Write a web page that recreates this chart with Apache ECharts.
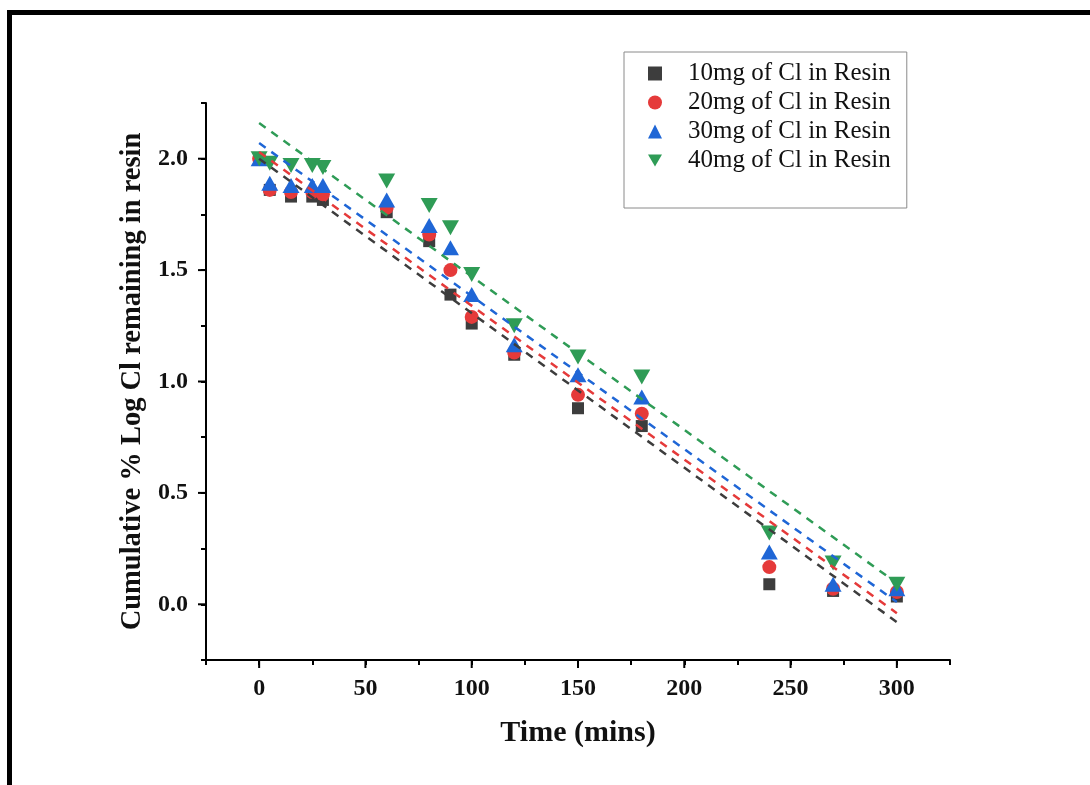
<!DOCTYPE html>
<html>
<head>
<meta charset="utf-8">
<script src="https://cdn.jsdelivr.net/npm/echarts@6/dist/echarts.min.js"></script>
<style>html,body{margin:0;padding:0;background:#fff}#c{width:1090px;height:785px}</style>
</head>
<body>
<div id="c"></div>
<script>
const times = [0, 5, 15, 25, 30, 60, 80, 90, 100, 120, 150, 180, 240, 270, 300];
const s10 = [2.00, 1.86, 1.83, 1.83, 1.815, 1.76, 1.63, 1.39, 1.26, 1.12, 0.88, 0.80, 0.09, 0.06, 0.035];
const s20 = [2.00, 1.86, 1.85, 1.85, 1.84, 1.78, 1.66, 1.50, 1.29, 1.13, 0.94, 0.855, 0.167, 0.07, 0.055];
const s30 = [2.00, 1.89, 1.88, 1.88, 1.88, 1.815, 1.70, 1.60, 1.39, 1.165, 1.03, 0.93, 0.235, 0.09, 0.07];
const s40 = [2.00, 1.98, 1.97, 1.97, 1.96, 1.90, 1.79, 1.69, 1.48, 1.25, 1.11, 1.02, 0.32, 0.185, 0.09];
const seriesNames = ['10mg of Cl in Resin', '20mg of Cl in Resin', '30mg of Cl in Resin', '40mg of Cl in Resin'];
const fitTimes = [0, 300];
const fitStart = [2.00, 2.03, 2.07, 2.16];
const fitEnd = [-0.08, -0.04, 0.01, 0.095];
const xMin = -25, xMax = 325, yMin = -0.25, yMax = 2.25;
const xMajor = [0, 50, 100, 150, 200, 250, 300];
const yMajor = [0, 0.5, 1.0, 1.5, 2.0];

const colors = ['#3d3d3d', '#e53a3a', '#1f66d6', '#2f9c56'];
const symbols = ['rect', 'circle', 'triangle', 'path://M0,0 L10,0 L5,8.5 Z'];
const sizes = [12, 14, [17, 15], [17, 15]];
const allData = [s10, s20, s30, s40];

const serif = '"Liberation Serif", "DejaVu Serif", serif';
const series = [];
allData.forEach((arr, i) => {
  series.push({
    name: seriesNames[i], type: 'scatter',
    data: times.map((t, j) => [t, arr[j]]),
    symbol: symbols[i], symbolSize: sizes[i],
    itemStyle: { color: colors[i], opacity: 1 },
    xAxisIndex: 0, yAxisIndex: 0, z: 3
  });
});
allData.forEach((arr, i) => {
  series.push({
    name: 'fit' + i, type: 'line',
    data: [[fitTimes[0], fitStart[i]], [fitTimes[1], fitEnd[i]]],
    symbol: 'none', silent: true,
    lineStyle: { color: colors[i], width: 2.5, type: [8, 7] },
    xAxisIndex: 0, yAxisIndex: 0, z: 4
  });
});

const frame = {
  type: 'polyline', silent: true,
  shape: { points: [[9.5, 785], [9.5, 12.5], [1090, 12.5]] },
  style: { stroke: '#000', lineWidth: 5, fill: null }
};

const chart = echarts.init(document.getElementById('c'));
chart.setOption({
  animation: false,
  backgroundColor: '#fff',
  grid: { left: 206, right: 140, top: 103, bottom: 125, containLabel: false },
  legend: {
    data: seriesNames.map((n, i) => ({ name: n, icon: symbols[i] })),
    orient: 'vertical', left: 624, top: 52,
    padding: [9, 16, 35, 24],
    borderColor: '#8a8a8a', borderWidth: 1,
    itemWidth: 14, itemHeight: 14, itemGap: 4,
    textStyle: { fontFamily: serif, fontSize: 25, color: '#111', lineHeight: 25, padding: [0, 0, 0, 21] }
  },
  xAxis: [{
    type: 'value', min: xMin, max: xMax, interval: 25, position: 'bottom',
    axisLine: { show: true, onZero: false, lineStyle: { color: '#000', width: 2 } },
    axisTick: { show: true, length: 5, lineStyle: { color: '#000', width: 2 } },
    axisLabel: { customValues: xMajor, margin: 17, fontFamily: serif, fontWeight: 'bold', fontSize: 24, color: '#111' },
    splitLine: { show: false },
    name: 'Time (mins)', nameLocation: 'middle', nameGap: 58,
    nameTextStyle: { fontFamily: serif, fontWeight: 'bold', fontSize: 30, color: '#111' }
  }],
  yAxis: [{
    type: 'value', min: yMin, max: yMax, interval: 0.25, position: 'left',
    axisLine: { show: true, onZero: false, lineStyle: { color: '#000', width: 2 } },
    axisTick: { show: true, length: 5, lineStyle: { color: '#000', width: 2 } },
    axisLabel: { customValues: yMajor, margin: 18, fontFamily: serif, fontWeight: 'bold', fontSize: 24, color: '#111',
      formatter: v => v.toFixed(1) },
    splitLine: { show: false },
    name: 'Cumulative % Log Cl remaining in resin', nameLocation: 'middle', nameGap: 51,
    nameTextStyle: { fontFamily: serif, fontWeight: 'bold', fontSize: 28.5, color: '#111' }
  }],
  graphic: [frame],
  series: series
});

// longer major ticks, placed through the chart's own scales
const tickEls = [];
xMajor.forEach(v => {
  const p = chart.convertToPixel({ gridIndex: 0 }, [v, yMin]);
  tickEls.push({ type: 'line', silent: true, z: 100,
    shape: { x1: p[0], y1: p[1], x2: p[0], y2: p[1] + 8 },
    style: { stroke: '#000', lineWidth: 2 } });
});
yMajor.forEach(v => {
  const p = chart.convertToPixel({ gridIndex: 0 }, [xMin, v]);
  tickEls.push({ type: 'line', silent: true, z: 100,
    shape: { x1: p[0], y1: p[1], x2: p[0] - 8, y2: p[1] },
    style: { stroke: '#000', lineWidth: 2 } });
});
chart.setOption({ graphic: [frame].concat(tickEls) }, { replaceMerge: ['graphic'] });
</script>
</body>
</html>
